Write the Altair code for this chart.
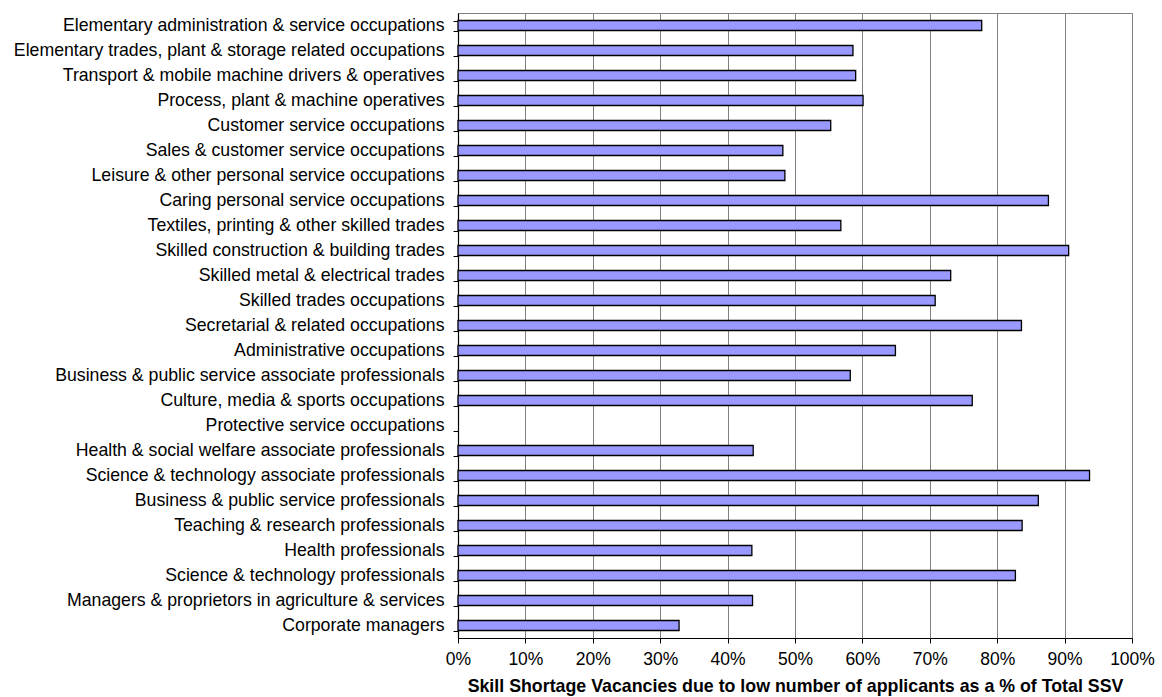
import altair as alt
import pandas as pd

# Occupation groups, top to bottom
occupations = [
    "Elementary administration & service occupations",
    "Elementary trades, plant & storage related occupations",
    "Transport & mobile machine drivers & operatives",
    "Process, plant & machine operatives",
    "Customer service occupations",
    "Sales & customer service occupations",
    "Leisure & other personal service occupations",
    "Caring personal service occupations",
    "Textiles, printing & other skilled trades",
    "Skilled construction & building trades",
    "Skilled metal & electrical trades",
    "Skilled trades occupations",
    "Secretarial & related occupations",
    "Administrative occupations",
    "Business & public service associate professionals",
    "Culture, media & sports occupations",
    "Protective service occupations",
    "Health & social welfare associate professionals",
    "Science & technology associate professionals",
    "Business & public service professionals",
    "Teaching & research professionals",
    "Health professionals",
    "Science & technology professionals",
    "Managers & proprietors in agriculture & services",
    "Corporate managers",
]

# Share of skill shortage vacancies due to low number of applicants (fraction)
share = [
    0.777, 0.586, 0.590, 0.601, 0.553, 0.482, 0.485, 0.876, 0.568, 0.906,
    0.731, 0.708, 0.836, 0.649, 0.582, 0.763, None, 0.438, 0.937, 0.861,
    0.837, 0.436, 0.827, 0.437, 0.328,
]

df = pd.DataFrame({"occupation": occupations, "share": share})

FONT = "Liberation Sans"

bars = alt.Chart(df).mark_bar(
    color="#9999FF", stroke="#000000", strokeWidth=1.3
).encode(
    x=alt.X(
        "share:Q",
        scale=alt.Scale(domain=[0, 1], nice=False, zero=True),
        axis=alt.Axis(
            format=".0%",
            values=[i / 10 for i in range(11)],
            title="Skill Shortage Vacancies due to low number of applicants as a % of Total SSV",
            titleFont=FONT,
            titleFontSize=17.8,
            titleFontWeight="bold",
            titleColor="#000000",
            titlePadding=10,
            labelFont=FONT,
            labelFontSize=17.5,
            labelColor="#000000",
            labelPadding=7,
            labelFlush=False,
            tickColor="#000000",
            tickSize=5,
            domainColor="#000000",
            domainWidth=1.2,
            grid=True,
            gridColor="#808080",
            gridWidth=1,
        ),
    ),
    y=alt.Y(
        "occupation:N",
        sort=occupations,
        scale=alt.Scale(domain=occupations, paddingInner=0.6, paddingOuter=0.3),
        axis=alt.Axis(
            title=None,
            labelFont=FONT,
            labelFontSize=17.7,
            labelColor="#000000",
            labelPadding=9,
            labelLimit=500,
            tickBand="extent",
            tickColor="#000000",
            tickSize=5,
            domainColor="#000000",
            domainWidth=1.2,
            grid=False,
        ),
    ),
)

chart = bars.properties(
    width=674,
    height=625,
    autosize=alt.AutoSizeParams(type="none"),
    padding={"left": 458, "top": 13, "right": 30, "bottom": 59},
    background="#ffffff",
).configure_view(stroke="#808080", strokeWidth=1)

chart.save("out.html", embed_options={"renderer": "svg", "actions": False})
